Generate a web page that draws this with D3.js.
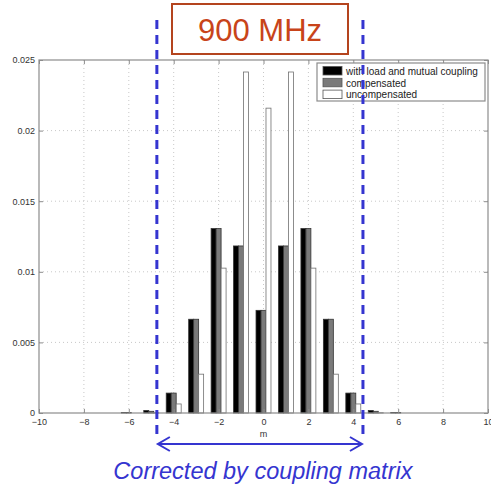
<!DOCTYPE html>
<html>
<head>
<meta charset="utf-8">
<script src="https://cdn.jsdelivr.net/npm/d3@7"></script>
<style>
  html, body { margin: 0; padding: 0; background: #fff; }
  svg { display: block; }
</style>
</head>
<body>
<svg id="chart" width="491" height="486"></svg>
<script>
// Distribution over mode index m
const modes = [-6, -5, -4, -3, -2, -1, 0, 1, 2, 3, 4, 5, 6];
const withCoupling  = [0.00004, 0.00018, 0.00141, 0.00664, 0.01306, 0.01183, 0.00727, 0.01183, 0.01306, 0.00664, 0.00141, 0.00018, 0.00004];
const compensated   = [0.00003, 0.00012, 0.00141, 0.00664, 0.01306, 0.01183, 0.00727, 0.01183, 0.01306, 0.00664, 0.00141, 0.00012, 0.00003];
const uncompensated = [0, 0.00002, 0.00064, 0.00275, 0.01026, 0.02415, 0.02159, 0.02415, 0.01026, 0.00275, 0.00064, 0.00002, 0];

const seriesNames = ["with load and mutual coupling", "compensated", "uncompensated"];
const seriesFills = ["#000000", "#7a7a7a", "#ffffff"];
const xTicks = [-10, -8, -6, -4, -2, 0, 2, 4, 6, 8, 10];
const yTicks = [0, 0.005, 0.01, 0.015, 0.02, 0.025];
const correctedRange = [-4.75, 4.43];

const svg = d3.select("#chart");
const plot = { left: 39, right: 488, top: 60, bottom: 413 };

const x = d3.scaleLinear().domain([-10, 10]).range([plot.left, plot.right]);
const y = d3.scaleLinear().domain([0, 0.025]).range([plot.bottom, plot.top]);

// dotted grid
const grid = svg.append("g");
grid.selectAll("line.vx").data(xTicks.slice(1, -1)).join("line")
  .attr("x1", d => x(d)).attr("x2", d => x(d))
  .attr("y1", plot.top).attr("y2", plot.bottom)
  .attr("stroke", "#c8c8c8").attr("stroke-width", 1).attr("stroke-dasharray", "1,3");
grid.selectAll("line.hy").data(yTicks.slice(1, -1)).join("line")
  .attr("x1", plot.left).attr("x2", plot.right)
  .attr("y1", d => y(d)).attr("y2", d => y(d))
  .attr("stroke", "#c8c8c8").attr("stroke-width", 1).attr("stroke-dasharray", "1,3");

// grouped bars
const series = [withCoupling, compensated, uncompensated];
const step = 0.222;
const barW = x(step) - x(0);
series.forEach((vals, si) => {
  svg.append("g").selectAll("rect").data(modes).join("rect")
    .attr("x", (m) => x(m + (si - 1) * step) - barW / 2)
    .attr("width", barW)
    .attr("y", (m, i) => y(vals[i]))
    .attr("height", (m, i) => y(0) - y(vals[i]))
    .attr("fill", seriesFills[si])
    .attr("stroke", si === 2 ? "#707070" : "#333")
    .attr("stroke-width", 0.8);
});

// axes frame
svg.append("rect")
  .attr("x", plot.left).attr("y", plot.top)
  .attr("width", plot.right - plot.left).attr("height", plot.bottom - plot.top)
  .attr("fill", "none").attr("stroke", "#8c8c8c").attr("stroke-width", 1.2);

const fmtY = d => d === 0 ? "0" : d3.format(".3~f")(d);
const xAxis = svg.append("g").attr("transform", `translate(0,${plot.bottom})`)
  .call(d3.axisBottom(x).tickValues(xTicks).tickSize(-4).tickPadding(6).tickFormat(d => d < 0 ? "\u2212" + Math.abs(d) : d));
const xAxisTop = svg.append("g").attr("transform", `translate(0,${plot.top})`)
  .call(d3.axisTop(x).tickValues(xTicks).tickSize(-4).tickFormat(""));
const yAxis = svg.append("g").attr("transform", `translate(${plot.left},0)`)
  .call(d3.axisLeft(y).tickValues(yTicks).tickSize(-4).tickPadding(4).tickFormat(fmtY));
const yAxisR = svg.append("g").attr("transform", `translate(${plot.right},0)`)
  .call(d3.axisRight(y).tickValues(yTicks).tickSize(-4).tickFormat(""));
[xAxis, xAxisTop, yAxis, yAxisR].forEach(a => {
  a.select(".domain").remove();
  a.selectAll(".tick line").attr("stroke", "#8c8c8c");
  a.selectAll("text").attr("font-family", "Liberation Sans, Arial, sans-serif")
    .attr("font-size", 9).attr("fill", "#333");
});

svg.append("text").attr("x", x(0)).attr("y", 437)
  .attr("text-anchor", "middle")
  .attr("font-family", "Liberation Sans, Arial, sans-serif")
  .attr("font-size", 9).attr("fill", "#333").text("m");

// legend
const leg = svg.append("g").attr("transform", "translate(317,63)");
leg.append("rect").attr("width", 168).attr("height", 38)
  .attr("fill", "#fff").attr("stroke", "#8c8c8c").attr("stroke-width", 1.2);
seriesNames.forEach((name, i) => {
  const row = leg.append("g").attr("transform", `translate(6,${3.5 + i * 11.8})`);
  row.append("rect").attr("width", 19).attr("height", 8.5)
    .attr("fill", seriesFills[i]).attr("stroke", "#555").attr("stroke-width", 0.8);
  row.append("text").attr("x", 23).attr("y", 8.2)
    .attr("font-family", "Liberation Sans, Arial, sans-serif")
    .attr("font-size", 10).attr("fill", "#222").text(name);
});

// corrected range annotation
const blue = "#3535d0";
correctedRange.forEach(m => {
  svg.append("line")
    .attr("x1", x(m)).attr("x2", x(m)).attr("y1", 20).attr("y2", 434)
    .attr("stroke", blue).attr("stroke-width", 3).attr("stroke-dasharray", "9,6");
});
const ay = 444;
const ax0 = x(correctedRange[0]), ax1 = x(correctedRange[1]);
svg.append("line").attr("x1", ax0 + 1).attr("x2", ax1 - 1).attr("y1", ay).attr("y2", ay)
  .attr("stroke", blue).attr("stroke-width", 2);
svg.append("path")
  .attr("d", `M${ax0 + 13},${ay - 7} L${ax0 + 1},${ay} L${ax0 + 13},${ay + 7} M${ax1 - 13},${ay - 7} L${ax1 - 1},${ay} L${ax1 - 13},${ay + 7}`)
  .attr("fill", "none").attr("stroke", blue).attr("stroke-width", 2);
svg.append("text").attr("x", (ax0 + ax1) / 2 + 3).attr("y", 479)
  .attr("text-anchor", "middle")
  .attr("font-family", "Liberation Sans, Arial, sans-serif")
  .attr("font-style", "italic").attr("font-size", 23.5).attr("fill", blue)
  .text("Corrected by coupling matrix");

// frequency label
svg.append("rect").attr("x", 172).attr("y", 4).attr("width", 176).attr("height", 50)
  .attr("fill", "#fff").attr("stroke", "#b4441e").attr("stroke-width", 2);
svg.append("text").attr("x", 260).attr("y", 41)
  .attr("text-anchor", "middle")
  .attr("font-family", "Liberation Sans, Arial, sans-serif")
  .attr("font-size", 31).attr("fill", "#c8441a").text("900 MHz");
</script>
</body>
</html>
